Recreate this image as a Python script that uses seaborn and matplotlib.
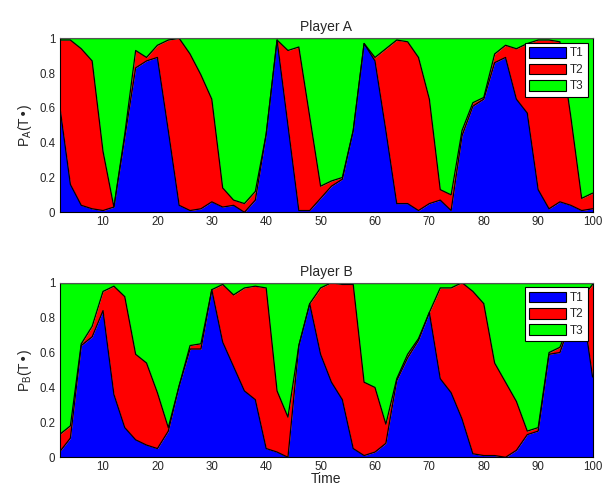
import numpy as np
import pandas as pd
import matplotlib
matplotlib.use("Agg")
import matplotlib.pyplot as plt
from matplotlib.patches import Patch
import seaborn as sns

# time steps (every 2 units)
time = list(range(2, 101, 2))

# Player A: T1 share and T1+T2 cumulative share
a_t1 = [0.62, 0.16, 0.04, 0.02, 0.01, 0.03, 0.43, 0.83, 0.87, 0.89,
        0.47, 0.04, 0.01, 0.02, 0.06, 0.03, 0.04, 0.00, 0.07, 0.45,
        0.99, 0.50, 0.01, 0.01, 0.08, 0.15, 0.19, 0.47, 0.97, 0.87,
        0.47, 0.05, 0.05, 0.01, 0.05, 0.07, 0.01, 0.44, 0.61, 0.65,
        0.86, 0.89, 0.65, 0.57, 0.13, 0.02, 0.06, 0.04, 0.01, 0.02]
a_t12 = [0.99, 0.99, 0.94, 0.87, 0.35, 0.03, 0.45, 0.93, 0.89, 0.96,
         0.99, 1.00, 0.91, 0.79, 0.65, 0.14, 0.07, 0.05, 0.12, 0.45,
         0.99, 0.93, 0.95, 0.55, 0.15, 0.18, 0.20, 0.47, 0.97, 0.89,
         0.94, 0.99, 0.98, 0.89, 0.65, 0.13, 0.10, 0.47, 0.63, 0.66,
         0.91, 0.96, 0.94, 0.97, 0.99, 0.99, 0.98, 0.55, 0.08, 0.11]

# Player B
b_t1 = [0.03, 0.11, 0.64, 0.69, 0.84, 0.36, 0.17, 0.10, 0.07, 0.05,
        0.15, 0.41, 0.62, 0.62, 0.96, 0.66, 0.52, 0.38, 0.33, 0.05,
        0.03, 0.00, 0.64, 0.88, 0.59, 0.43, 0.33, 0.05, 0.01, 0.03,
        0.08, 0.44, 0.57, 0.67, 0.83, 0.45, 0.37, 0.22, 0.02, 0.01,
        0.01, 0.00, 0.04, 0.13, 0.15, 0.59, 0.60, 0.78, 0.90, 0.46]
b_t12 = [0.13, 0.18, 0.65, 0.75, 0.95, 0.98, 0.92, 0.59, 0.54, 0.37,
         0.17, 0.41, 0.64, 0.65, 0.96, 0.99, 0.93, 0.97, 0.98, 0.97,
         0.38, 0.23, 0.64, 0.88, 0.97, 1.00, 0.99, 0.99, 0.43, 0.40,
         0.19, 0.45, 0.59, 0.68, 0.83, 0.97, 0.97, 1.00, 0.95, 0.88,
         0.54, 0.43, 0.32, 0.15, 0.17, 0.60, 0.63, 0.79, 0.91, 0.99]

labels = ["T1", "T2", "T3"]
colors = ["#0000ff", "#ff0000", "#00ff00"]

sns.set_style("white")
plt.rcParams['font.family'] = ['Liberation Sans', 'DejaVu Sans']

fig = plt.figure(figsize=(6.03, 4.88), dpi=100)
ax_a = fig.add_axes([0.0987, 0.565, 0.884, 0.3565])
ax_b = fig.add_axes([0.0987, 0.0629, 0.884, 0.3578])


def draw_panel(ax, t1, t12, title, ylab):
    df = pd.DataFrame({'time': time, 't1': t1, 't12': t12, 'one': 1.0})
    ax.fill_between(df['time'], 0, df['t1'], color=colors[0], lw=0)
    ax.fill_between(df['time'], df['t1'], df['t12'], color=colors[1], lw=0)
    ax.fill_between(df['time'], df['t12'], df['one'], color=colors[2], lw=0)
    # black boundary lines of the stacked areas
    for col in ['t1', 't12', 'one']:
        sns.lineplot(data=df, x='time', y=col, ax=ax, color='black', lw=0.9)

    ax.set_xlim(2, 100)
    ax.set_ylim(0, 1)
    ax.set_xticks([10, 20, 30, 40, 50, 60, 70, 80, 90, 100])
    ax.set_yticks([0, 0.2, 0.4, 0.6, 0.8, 1])
    ax.set_yticklabels(["0", "0.2", "0.4", "0.6", "0.8", "1"])
    ax.tick_params(labelsize=8.3, direction='in', length=3, pad=3)
    ax.set_axisbelow(True)
    for sp in ax.spines.values():
        sp.set_color('black')
        sp.set_linewidth(0.8)
    ax.spines['top'].set_color('#555555')
    ax.set_title(title, fontsize=10, pad=5)
    ax.set_ylabel(ylab, fontsize=10, labelpad=4)
    ax.set_xlabel("")

    handles = [Patch(facecolor=c, edgecolor='black', lw=0.8) for c in colors]
    leg = ax.legend(handles, labels, loc='upper right', fontsize=8.5,
                    fancybox=False, framealpha=1, edgecolor='black',
                    handlelength=3.2, handleheight=1.0, labelspacing=0.35,
                    handletextpad=0.3, borderpad=0.35, borderaxespad=0.4)
    leg.get_frame().set_linewidth(0.8)


draw_panel(ax_a, a_t1, a_t12, "Player A", r"$\mathregular{P_A}$(T•)")
draw_panel(ax_b, b_t1, b_t12, "Player B", r"$\mathregular{P_B}$(T•)")
ax_b.set_xlabel("Time", fontsize=10, labelpad=-1)

fig.savefig("out.png", dpi=100)
